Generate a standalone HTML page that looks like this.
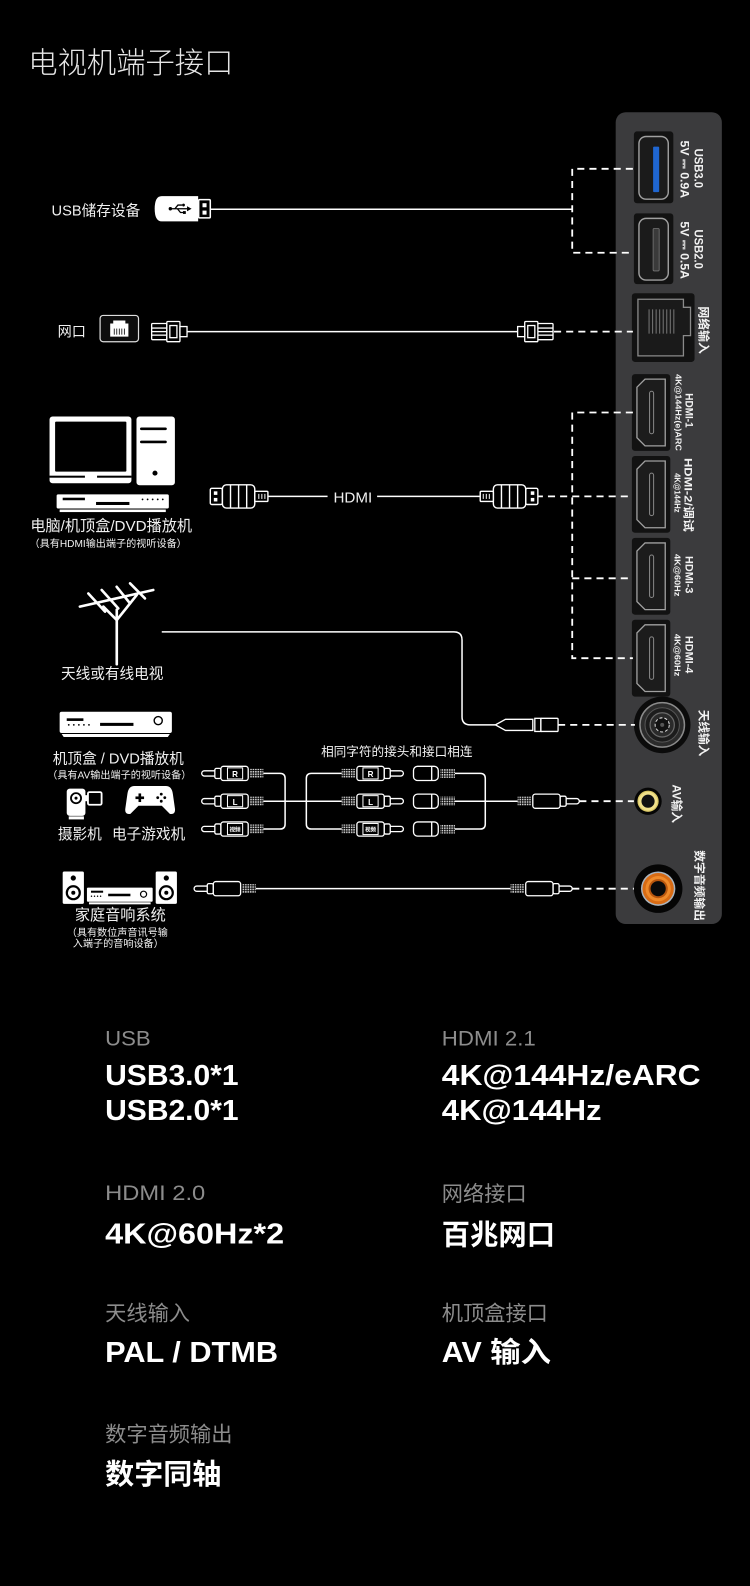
<!DOCTYPE html>
<html><head><meta charset="utf-8"><style>
html,body{margin:0;padding:0;background:#000;}
svg{display:block;}
</style></head><body>
<svg xmlns="http://www.w3.org/2000/svg" width="750" height="1586" viewBox="0 0 750 1586">
<defs>
<pattern id="rib" width="2.4" height="2.4" patternUnits="userSpaceOnUse"><rect width="1.6" height="1.6" fill="#cfcfcf"/></pattern>
<g id="rca" fill="#000" stroke="#fff" stroke-width="1.3">
  <path d="M13 -2.6 H2.6 A2.6 2.6 0 0 0 2.6 2.6 H13"/>
  <rect x="13" y="-5" width="6" height="10" rx="1.5"/>
  <rect x="19" y="-7" width="27" height="14" rx="2.5"/>
  <rect x="47.5" y="-4.5" width="13.5" height="9" fill="url(#rib)" stroke="none"/>
</g>
<g id="hdmi" fill="#000" stroke="#fff" stroke-width="1.4">
  <rect x="208" y="483" width="12" height="16" rx="1.5"/>
  <rect x="211.5" y="486" width="3.5" height="3.5" fill="#fff" stroke="none"/>
  <rect x="211.5" y="492.5" width="3.5" height="3.5" fill="#fff" stroke="none"/>
  <rect x="220" y="479.5" width="32" height="23" rx="4"/>
  <line x1="228" y1="480" x2="228" y2="502"/>
  <line x1="236" y1="480" x2="236" y2="502"/>
  <line x1="244" y1="480" x2="244" y2="502"/>
  <rect x="252" y="486" width="13" height="10" rx="1"/>
  <line x1="256" y1="488.5" x2="256" y2="493.5" stroke-width="1"/>
  <line x1="259" y1="488.5" x2="259" y2="493.5" stroke-width="1"/>
  <line x1="262" y1="488.5" x2="262" y2="493.5" stroke-width="1"/>
</g>
<g id="rj" fill="#000" stroke="#fff" stroke-width="1.3">
  <rect x="150" y="320" width="15" height="16" rx="1"/>
  <line x1="150" y1="324.5" x2="165" y2="324.5"/>
  <line x1="150" y1="328" x2="165" y2="328"/>
  <line x1="150" y1="331.5" x2="165" y2="331.5"/>
  <rect x="165" y="318" width="13" height="20" rx="1"/>
  <rect x="168" y="322" width="7" height="12"/>
  <rect x="178" y="323" width="7" height="10"/>
</g>
</defs>
<rect width="750" height="1586" fill="#000"/>
<g transform="scale(1.011)" font-family="'Liberation Sans','Noto Sans CJK SC',sans-serif">

<!-- Title -->
<text x="28" y="72" font-size="29" font-weight="300" fill="#e6e6e6">电视机端子接口</text>

<!-- Panel -->
<rect x="609" y="111" width="105" height="803" rx="10" fill="#3b3b3d"/>

<!-- USB3.0 -->
<rect x="627" y="130" width="39" height="71" rx="3" fill="#121212"/>
<rect x="632" y="135" width="29" height="62" rx="7" fill="#1b1b1b" stroke="#a0a0a0" stroke-width="1.4"/>
<rect x="646" y="145" width="6" height="45" rx="1" fill="#1f66d1"/>
<!-- USB2.0 -->
<rect x="627" y="211" width="39" height="70" rx="3" fill="#121212"/>
<rect x="632" y="216" width="29" height="61" rx="7" fill="#1b1b1b" stroke="#a0a0a0" stroke-width="1.4"/>
<rect x="646" y="226" width="6" height="42" rx="1" fill="#3a3a3a" stroke="#777" stroke-width="0.8"/>
<!-- Ethernet -->
<rect x="625" y="290" width="62" height="68" rx="3" fill="#121212"/>
<path d="M631 296 H676 V304 H683 V332 H676 V352 H631 Z" fill="#1a1a1a" stroke="#8a8a8a" stroke-width="1.3"/>
<g stroke="#777" stroke-width="1">
<line x1="642" y1="306" x2="642" y2="330"/><line x1="645.5" y1="306" x2="645.5" y2="330"/>
<line x1="649" y1="306" x2="649" y2="330"/><line x1="652.5" y1="306" x2="652.5" y2="330"/>
<line x1="656" y1="306" x2="656" y2="330"/><line x1="659.5" y1="306" x2="659.5" y2="330"/>
<line x1="663" y1="306" x2="663" y2="330"/><line x1="666.5" y1="306" x2="666.5" y2="330"/>
</g>
<!-- HDMI ports -->
<g fill="#121212">
<rect x="625" y="370" width="38" height="76" rx="3"/>
<rect x="625" y="451" width="38" height="76" rx="3"/>
<rect x="625" y="532" width="38" height="76" rx="3"/>
<rect x="625" y="613" width="38" height="76" rx="3"/>
</g>
<g fill="#1c1c1c" stroke="#a0a0a0" stroke-width="1.3">
<path d="M638 375 H658 V441 H638 L630 433 V383 Z"/>
<path d="M638 456 H658 V522 H638 L630 514 V464 Z"/>
<path d="M638 537 H658 V603 H638 L630 595 V545 Z"/>
<path d="M638 618 H658 V684 H638 L630 676 V626 Z"/>
</g>
<g fill="none" stroke="#888" stroke-width="1">
<rect x="642.5" y="387" width="4" height="42" rx="2"/>
<rect x="642.5" y="468" width="4" height="42" rx="2"/>
<rect x="642.5" y="549" width="4" height="42" rx="2"/>
<rect x="642.5" y="630" width="4" height="42" rx="2"/>
</g>
<!-- Antenna port -->
<circle cx="655" cy="717" r="28" fill="#0b0b0b"/>
<circle cx="655" cy="717" r="22" fill="#2b2b2b" stroke="#8a8a8a" stroke-width="1.5"/>
<circle cx="655" cy="717" r="17" fill="#1c1c1c" stroke="#555" stroke-width="1"/>
<circle cx="655" cy="717" r="12" fill="#2a2a2a" stroke="#6a6a6a" stroke-width="1.2"/>
<circle cx="655" cy="717" r="7" fill="#111" stroke="#ddd" stroke-width="1" stroke-dasharray="3 2"/>
<circle cx="655" cy="717" r="2" fill="#555"/>
<!-- AV port -->
<circle cx="641" cy="792.5" r="13.5" fill="#050505"/>
<circle cx="641" cy="792.5" r="10.5" fill="#d9c766"/>
<circle cx="641" cy="792.5" r="9.3" fill="#f0e08a"/>
<circle cx="641" cy="792.5" r="6.5" fill="#111"/>
<!-- Coax port -->
<circle cx="651" cy="879" r="24" fill="#050505"/>
<circle cx="651" cy="879" r="17" fill="#aab4be"/>
<circle cx="651" cy="879" r="15.5" fill="#d86b14"/>
<circle cx="651" cy="879" r="12.5" fill="#f08a2a"/>
<circle cx="651" cy="879" r="9.5" fill="#b8560e"/>
<circle cx="651" cy="879" r="7.5" fill="#0a0a0a"/>

<!-- Panel labels -->
<g font-weight="700" fill="#f2f2f2">
<text transform="translate(687,147) rotate(90)" font-size="11.5" textLength="39" lengthAdjust="spacingAndGlyphs">USB3.0</text>
<text transform="translate(673,139) rotate(90)" font-size="11.5" textLength="57" lengthAdjust="spacingAndGlyphs">5V ⎓ 0.9A</text>
<text transform="translate(687,227) rotate(90)" font-size="11.5" textLength="39" lengthAdjust="spacingAndGlyphs">USB2.0</text>
<text transform="translate(673,219) rotate(90)" font-size="11.5" textLength="57" lengthAdjust="spacingAndGlyphs">5V ⎓ 0.5A</text>
<text transform="translate(692,303) rotate(90)" font-size="12" textLength="47" lengthAdjust="spacingAndGlyphs">网络输入</text>
<text transform="translate(678,389) rotate(90)" font-size="11" textLength="34" lengthAdjust="spacingAndGlyphs">HDMI-1</text>
<text transform="translate(668,370) rotate(90)" font-size="8" textLength="76" lengthAdjust="spacingAndGlyphs">4K@144Hz(e)ARC</text>
<text transform="translate(677,453) rotate(90)" font-size="11" textLength="73" lengthAdjust="spacingAndGlyphs">HDMI-2/调试</text>
<text transform="translate(667,468) rotate(90)" font-size="8" textLength="39" lengthAdjust="spacingAndGlyphs">4K@144Hz</text>
<text transform="translate(678,550) rotate(90)" font-size="11" textLength="37" lengthAdjust="spacingAndGlyphs">HDMI-3</text>
<text transform="translate(667,548) rotate(90)" font-size="8" textLength="42" lengthAdjust="spacingAndGlyphs">4K@60Hz</text>
<text transform="translate(678,629) rotate(90)" font-size="11" textLength="37" lengthAdjust="spacingAndGlyphs">HDMI-4</text>
<text transform="translate(667,627) rotate(90)" font-size="8" textLength="42" lengthAdjust="spacingAndGlyphs">4K@60Hz</text>
<text transform="translate(692,702) rotate(90)" font-size="12" textLength="46" lengthAdjust="spacingAndGlyphs">天线输入</text>
<text transform="translate(665,776) rotate(90)" font-size="12" textLength="38" lengthAdjust="spacingAndGlyphs">AV输入</text>
<text transform="translate(688,841) rotate(90)" font-size="11.5" textLength="70" lengthAdjust="spacingAndGlyphs">数字音频输出</text>
</g>

<!-- Dashed connectors -->
<g fill="none" stroke="#fff" stroke-width="1.8" stroke-dasharray="7 5">
<path d="M626 167 H566 V250 H626"/>
<path d="M548 328 H626"/>
<path d="M626 408 H566 V651 H626"/>
<path d="M530 491 H626"/>
<path d="M566 572 H626"/>
<path d="M552 717 H628"/>
<path d="M573 792.5 H627"/>
<path d="M566 879 H627"/>
</g>

<!-- Solid cables -->
<g fill="none" stroke="#fff" stroke-width="1.5">
<path d="M208 207 H566"/>
<path d="M185 328 H512"/>
<path d="M265 491 H324"/>
<path d="M373 491 H475"/>
<path d="M160 625 H449 Q457 625 457 633 V709 Q457 717 465 717 H490"/>
<path d="M260.5 765 H277 Q282 765 282 770 V815 Q282 820 277 820 H260.5"/>
<path d="M260.5 792.5 H338"/>
<path d="M338 765 H308 Q303 765 303 770 V815 Q303 820 308 820 H338"/>
<path d="M450 765 H475 Q480 765 480 770 V815 Q480 820 475 820 H450"/>
<path d="M450 792.5 H512"/>
<path d="M253 879 H505"/>
</g>

<!-- USB stick -->
<path d="M160 194 H196 V219 H160 Q153 219 153 206.5 Q153 194 160 194 Z" fill="#fff"/>
<g stroke="#000" stroke-width="1.3" fill="none">
<path d="M169 206.5 H185"/>
<path d="M173 206.5 L176 202.8 H180"/>
<path d="M175.5 206.5 L178.5 210.2 H181"/>
</g>
<path d="M185 204 L189.5 206.5 L185 209 Z" fill="#000"/>
<circle cx="168.5" cy="206.5" r="1.7" fill="#000"/>
<circle cx="181.5" cy="202.8" r="1.4" fill="#000"/>
<rect x="181" y="208.8" width="2.8" height="2.8" fill="#000"/>
<rect x="196.5" y="197.5" width="11.5" height="18" rx="1" fill="#000" stroke="#fff" stroke-width="1.5"/>
<rect x="200.3" y="201" width="4" height="4" fill="#fff"/>
<rect x="200.3" y="208.3" width="4" height="4" fill="#fff"/>

<!-- Ethernet icons -->
<rect x="99" y="312" width="38" height="26" rx="3" fill="#0d0d0d" stroke="#ddd" stroke-width="1.2"/>
<path d="M112 317 H124 V320 H127 V333 H109 V320 H112 Z" fill="#fff"/>
<g stroke="#000" stroke-width="0.8">
<line x1="113" y1="325" x2="113" y2="331"/><line x1="115.5" y1="325" x2="115.5" y2="331"/>
<line x1="118" y1="325" x2="118" y2="331"/><line x1="120.5" y1="325" x2="120.5" y2="331"/>
<line x1="123" y1="325" x2="123" y2="331"/>
</g>
<use href="#rj"/>
<use href="#rj" transform="translate(697,0) scale(-1,1)"/>

<!-- HDMI plugs -->
<use href="#hdmi"/>
<use href="#hdmi" transform="translate(740,0) scale(-1,1)"/>

<!-- Computer -->
<rect x="49" y="412" width="81" height="66" rx="3" fill="#fff"/>
<rect x="54.5" y="417" width="70.5" height="49.5" rx="1" fill="#000"/>
<rect x="49" y="470.5" width="35" height="2" fill="#000"/>
<rect x="96" y="470.5" width="34" height="2" fill="#000"/>
<rect x="135" y="412" width="38" height="68" rx="3" fill="#fff"/>
<rect x="138.5" y="422.8" width="26.5" height="2.6" rx="1.3" fill="#000"/>
<rect x="138.5" y="435.8" width="26.5" height="2.6" rx="1.3" fill="#000"/>
<circle cx="153.3" cy="468" r="2.5" fill="#000"/>
<!-- DVD (HDMI row) -->
<rect x="56" y="489" width="111" height="14" rx="1.5" fill="#fff"/>
<rect x="59" y="504" width="105" height="2.5" fill="#fff"/>
<rect x="62" y="492.3" width="22" height="2.5" fill="#000"/>
<rect x="95" y="496.5" width="33" height="3" fill="#000"/>
<g fill="#000">
<circle cx="141" cy="494" r="0.9"/><circle cx="146" cy="494" r="0.9"/><circle cx="151" cy="494" r="0.9"/><circle cx="156" cy="494" r="0.9"/><circle cx="161" cy="494" r="0.9"/>
</g>

<!-- Antenna -->
<g stroke="#fff" stroke-width="2.6" stroke-linecap="round" fill="none" transform="translate(0,5)">
<line x1="115.5" y1="598" x2="115.5" y2="652"/>
<line x1="79" y1="595" x2="151.6" y2="578.6"/>
<line x1="87.4" y1="582" x2="103.9" y2="600"/>
<line x1="100.6" y1="578.6" x2="117" y2="596.8"/>
<line x1="115.4" y1="575.4" x2="128.6" y2="591.8"/>
<line x1="128.6" y1="572" x2="143.4" y2="586.9"/>
<line x1="115.5" y1="608.3" x2="102.2" y2="595"/>
<line x1="115.5" y1="608.3" x2="135.2" y2="583.6"/>
</g>

<!-- Antenna plug -->
<g fill="#000" stroke="#fff" stroke-width="1.3">
<path d="M490 717 L500 711.5 H527 V722.5 H500 Z"/>
<rect x="529" y="710.5" width="6" height="13"/>
<rect x="535" y="710.5" width="17" height="13" rx="1"/>
</g>

<!-- DVD (AV row) -->
<rect x="59" y="704" width="111" height="21" rx="2" fill="#fff"/>
<path d="M61 726 H168 L166 729 H63 Z" fill="#fff"/>
<rect x="66" y="710.5" width="16.5" height="2.6" fill="#000"/>
<g fill="#000">
<circle cx="68" cy="717" r="0.9"/><circle cx="73" cy="717" r="0.9"/><circle cx="78" cy="717" r="0.9"/><circle cx="83" cy="717" r="0.9"/><circle cx="88" cy="717" r="0.9"/>
</g>
<rect x="99" y="715" width="33" height="3" fill="#000"/>
<circle cx="156.5" cy="712.8" r="4" fill="#fff" stroke="#000" stroke-width="1.4"/>

<!-- Camcorder -->
<rect x="66" y="780" width="18.5" height="27" rx="3" fill="#fff"/>
<circle cx="75.2" cy="789.5" r="5" fill="#fff" stroke="#000" stroke-width="1.8"/>
<circle cx="75.2" cy="789.5" r="1.5" fill="#000"/>
<rect x="84" y="786.5" width="3" height="6" fill="#fff"/>
<rect x="87" y="783.5" width="13.5" height="12.5" rx="1.5" fill="#000" stroke="#fff" stroke-width="1.8"/>
<rect x="68" y="807.5" width="15" height="3" fill="#fff"/>
<!-- Gamepad -->
<path d="M133 777.5 H164 Q170 777.5 171 785.5 L173 799.5 Q174 806 168 805 L160 797 H137 L129 805 Q123 806 124 799.5 L126 785.5 Q127 777.5 133 777.5 Z" fill="#fff"/>
<rect x="134" y="787.8" width="8.5" height="2.6" fill="#000"/>
<rect x="137" y="784.8" width="2.6" height="8.5" fill="#000"/>
<g fill="#000">
<circle cx="159.5" cy="785.5" r="1.4"/><circle cx="163" cy="789" r="1.4"/><circle cx="159.5" cy="792.5" r="1.4"/><circle cx="156" cy="789" r="1.4"/>
</g>

<!-- RCA plugs -->
<use href="#rca" transform="translate(199.5,765)"/>
<use href="#rca" transform="translate(199.5,792.5)"/>
<use href="#rca" transform="translate(199.5,820)"/>
<use href="#rca" transform="translate(399,765) scale(-1,1)"/>
<use href="#rca" transform="translate(399,792.5) scale(-1,1)"/>
<use href="#rca" transform="translate(399,820) scale(-1,1)"/>
<use href="#rca" transform="translate(573,792.5) scale(-1,1)"/>
<g fill="none" stroke="#fff" stroke-width="1">
<rect x="225" y="759.5" width="15" height="11"/>
<rect x="225" y="787" width="15" height="11"/>
<rect x="225" y="814.5" width="15" height="11"/>
<rect x="359" y="759.5" width="15" height="11"/>
<rect x="359" y="787" width="15" height="11"/>
<rect x="359" y="814.5" width="15" height="11"/>
</g>
<g fill="#fff" font-weight="700" text-anchor="middle">
<text x="232.5" y="768.5" font-size="8">R</text>
<text x="232.5" y="796" font-size="8">L</text>
<text x="232.5" y="822.5" font-size="5.5">视频</text>
<text x="366.5" y="768.5" font-size="8">R</text>
<text x="366.5" y="796" font-size="8">L</text>
<text x="366.5" y="822.5" font-size="5.5">视频</text>
</g>
<!-- Female jacks -->
<g fill="#000" stroke="#fff" stroke-width="1.3">
<rect x="409" y="758" width="24.5" height="14" rx="4"/>
<rect x="409" y="785.5" width="24.5" height="14" rx="4"/>
<rect x="409" y="813" width="24.5" height="14" rx="4"/>
<line x1="427" y1="758" x2="427" y2="772"/>
<line x1="427" y1="785.5" x2="427" y2="799.5"/>
<line x1="427" y1="813" x2="427" y2="827"/>
</g>
<g fill="url(#rib)">
<rect x="435.5" y="760.5" width="14.5" height="9"/>
<rect x="435.5" y="788" width="14.5" height="9"/>
<rect x="435.5" y="815.5" width="14.5" height="9"/>
</g>

<!-- Coax plugs -->
<use href="#rca" transform="translate(192,879)"/>
<use href="#rca" transform="translate(566,879) scale(-1,1)"/>

<!-- Home audio -->
<rect x="62" y="862" width="21" height="32" rx="1.5" fill="#fff"/>
<circle cx="72.5" cy="868.5" r="2.6" fill="#000"/>
<circle cx="72.5" cy="883" r="7.5" fill="#000"/>
<circle cx="72.5" cy="883" r="5.3" fill="#fff"/>
<circle cx="72.5" cy="883" r="2" fill="#000"/>
<rect x="154" y="862" width="21" height="32" rx="1.5" fill="#fff"/>
<circle cx="164.5" cy="868.5" r="2.6" fill="#000"/>
<circle cx="164.5" cy="883" r="7.5" fill="#000"/>
<circle cx="164.5" cy="883" r="5.3" fill="#fff"/>
<circle cx="164.5" cy="883" r="2" fill="#000"/>
<rect x="86" y="878" width="65" height="14" rx="1" fill="#fff"/>
<rect x="88" y="892.5" width="61" height="2" fill="#fff"/>
<rect x="90" y="881" width="12" height="2" fill="#000"/>
<g fill="#000">
<circle cx="90.5" cy="886.5" r="0.7"/><circle cx="93.5" cy="886.5" r="0.7"/><circle cx="96.5" cy="886.5" r="0.7"/><circle cx="99.5" cy="886.5" r="0.7"/>
</g>
<rect x="107" y="884" width="22" height="2.5" fill="#000"/>
<circle cx="142" cy="884.5" r="3" fill="none" stroke="#000" stroke-width="1.2"/>

<!-- Left labels -->
<g fill="#f0f0f0">
<text x="51" y="213" font-size="14.5">USB储存设备</text>
<text x="57" y="333" font-size="14">网口</text>
<text x="349" y="497" font-size="15" text-anchor="middle">HDMI</text>
<text x="110" y="525" font-size="15" text-anchor="middle">电脑/机顶盒/DVD播放机</text>
<text x="107" y="541" font-size="10" text-anchor="middle">（具有HDMI输出端子的视听设备）</text>
<text x="111" y="671" font-size="14.5" text-anchor="middle">天线或有线电视</text>
<text x="117" y="755" font-size="14.5" text-anchor="middle">机顶盒 / DVD播放机</text>
<text x="118" y="770" font-size="10" text-anchor="middle">（具有AV输出端子的视听设备）</text>
<text x="79" y="830" font-size="14.5" text-anchor="middle">摄影机</text>
<text x="147" y="830" font-size="14.5" text-anchor="middle">电子游戏机</text>
<text x="392.5" y="748" font-size="12.5" text-anchor="middle">相同字符的接头和接口相连</text>
<text x="119" y="910" font-size="15" text-anchor="middle">家庭音响系统</text>
<text x="116" y="926" font-size="10" text-anchor="middle">（具有数位声音讯号输</text>
<text x="117" y="936.5" font-size="10" text-anchor="middle">入端子的音响设备）</text>
</g>

<!-- Specs -->
<g fill="#8c8c8c" font-size="21">
<text x="104" y="1034" textLength="45" lengthAdjust="spacingAndGlyphs">USB</text>
<text x="437" y="1034" textLength="93" lengthAdjust="spacingAndGlyphs">HDMI 2.1</text>
<text x="104" y="1187" textLength="99" lengthAdjust="spacingAndGlyphs">HDMI 2.0</text>
<text x="437" y="1188">网络接口</text>
<text x="104" y="1306">天线输入</text>
<text x="437" y="1306">机顶盒接口</text>
<text x="104" y="1426">数字音频输出</text>
</g>
<g fill="#ffffff" font-size="28" font-weight="700">
<text x="104" y="1073" textLength="132" lengthAdjust="spacingAndGlyphs">USB3.0*1</text>
<text x="104" y="1108" textLength="132" lengthAdjust="spacingAndGlyphs">USB2.0*1</text>
<text x="437" y="1073" textLength="256" lengthAdjust="spacingAndGlyphs">4K@144Hz/eARC</text>
<text x="437" y="1108" textLength="158" lengthAdjust="spacingAndGlyphs">4K@144Hz</text>
<text x="104" y="1230" textLength="177" lengthAdjust="spacingAndGlyphs">4K@60Hz*2</text>
<text x="437" y="1231" textLength="112" lengthAdjust="spacingAndGlyphs">百兆网口</text>
<text x="104" y="1347" textLength="171" lengthAdjust="spacingAndGlyphs">PAL / DTMB</text>
<text x="437" y="1347" textLength="108" lengthAdjust="spacingAndGlyphs">AV 输入</text>
<text x="104" y="1468" textLength="115" lengthAdjust="spacingAndGlyphs">数字同轴</text>
</g>

</g>
</svg>
</body></html>
